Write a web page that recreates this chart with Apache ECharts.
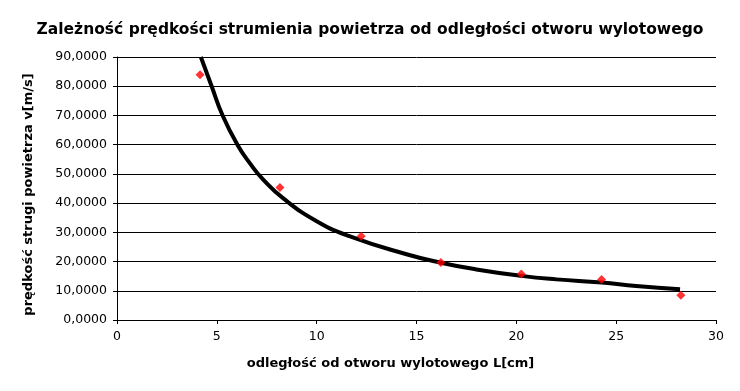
<!DOCTYPE html>
<html>
<head>
<meta charset="utf-8">
<script src="https://cdn.jsdelivr.net/npm/echarts@6/dist/echarts.min.js"></script>
<style>html,body{margin:0;padding:0;background:#fff}#c{width:740px;height:391px}</style>
</head>
<body>
<div id="c"></div>
<script>
var titleText = 'Zależność prędkości strumienia powietrza od odległości otworu wylotowego';
var xName = 'odległość od otworu wylotowego L[cm]';
var yName = 'prędkość strugi powietrza v[m/s]';
var measX = [4.16, 8.16, 12.23, 16.22, 20.25, 24.27, 28.24];
var measY = [83.9, 45.3, 28.7, 19.7, 15.7, 13.9, 8.45];
var trendX = [4.2, 4.74, 5.29, 6.03, 6.66, 7.3, 8.33, 10, 11.67, 14.5, 16.22, 18, 20.25, 22, 24.27, 26, 28.2];
var trendY = [90, 80, 70, 60, 53.6, 48.2, 41.6, 33.8, 28.6, 22.5, 19.6, 17.3, 15.1, 13.9, 12.8, 11.6, 10.5];

var font = 'DejaVu Sans';
var chart = echarts.init(document.getElementById('c'));
chart.setOption({
  animation: false,
  backgroundColor: '#fff',
  title: {
    text: titleText, left: 'center', top: 17,
    textStyle: {fontFamily: font, fontSize: 15.5, fontWeight: 'bold', color: '#000'}
  },
  grid: {left: 117, right: 24, top: 57, bottom: 71},
  xAxis: {
    type: 'value', min: 0, max: 30, interval: 5,
    name: xName, nameLocation: 'middle', nameGap: 37,
    nameTextStyle: {fontFamily: font, fontSize: 13, fontWeight: 'bold', color: '#000', padding: [0, 52, 0, 0]},
    axisLine: {show: true, lineStyle: {color: '#000', width: 1}},
    axisTick: {show: true, inside: false, length: 4, lineStyle: {color: '#000'}},
    axisLabel: {fontFamily: font, fontSize: 12.5, color: '#000', margin: 10},
    splitLine: {show: false}
  },
  yAxis: {
    type: 'value', min: 0, max: 90, interval: 10,
    name: yName, nameLocation: 'middle', nameGap: 82,
    nameTextStyle: {fontFamily: font, fontSize: 13, fontWeight: 'bold', color: '#000', padding: [0, 12, 0, 0]},
    axisLine: {show: true, lineStyle: {color: '#000', width: 1}},
    axisTick: {show: true, inside: false, length: 4, lineStyle: {color: '#000'}},
    axisLabel: {fontFamily: font, fontSize: 12.5, color: '#000', margin: 10,
      formatter: function (v) { return v.toFixed(4).replace('.', ','); }},
    splitLine: {show: true, lineStyle: {color: '#000', width: 1}}
  },
  series: [
    {
      type: 'line', data: trendX.map(function (x, i) { return [x, trendY[i]]; }),
      smooth: 0.5, showSymbol: false, clip: true,
      lineStyle: {color: '#000', width: 4}, z: 2
    },
    {
      type: 'scatter', data: measX.map(function (x, i) { return [x, measY[i]]; }),
      symbol: 'diamond', symbolSize: 9,
      itemStyle: {color: '#ff0000'}, z: 3
    }
  ]
});
</script>
</body>
</html>
